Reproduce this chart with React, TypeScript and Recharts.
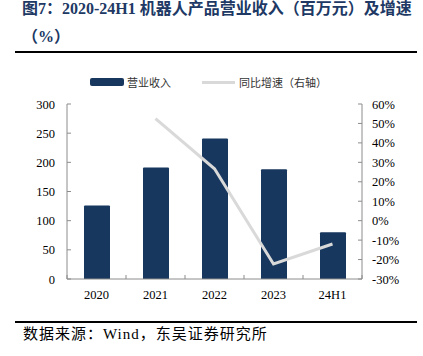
import React from "react";
import {
  ComposedChart,
  Bar,
  Line,
  XAxis,
  YAxis,
  Legend,
} from "recharts";

const categories = ["2020", "2021", "2022", "2023", "24H1"];
const revenue = [126, 191, 241, 188, 80];
const growth: (number | null)[] = [null, 52.5, 26.7, -22.3, -12];
const leftTicks = [0, 50, 100, 150, 200, 250, 300];
const rightTicks = [-30, -20, -10, 0, 10, 20, 30, 40, 50, 60];

const data = categories.map((name, i) => ({
  name,
  revenue: revenue[i],
  growth: growth[i],
}));

const BAR_COLOR = "#17375e";
const LINE_COLOR = "#d9d9d9";
const AXIS_COLOR = "#8c8c8c";
const LATIN = '"Liberation Serif", "Times New Roman", "Noto Sans CJK SC", serif';
const CJK = '"Liberation Serif", "Noto Sans CJK SC", serif';
const HALF_BAND = 29.5;

const LeftTick = (props: any) => {
  const { x, y, payload } = props;
  return (
    <g>
      <line x1={x} x2={x + 4} y1={y} y2={y} stroke={AXIS_COLOR} />
      <text x={x - 12} y={y + 4.5} textAnchor="end" fontSize={12.5} fill="#000" fontFamily={LATIN}>
        {payload.value}
      </text>
    </g>
  );
};

const RightTick = (props: any) => {
  const { x, y, payload } = props;
  return (
    <g>
      <line x1={x} x2={x - 4} y1={y} y2={y} stroke={AXIS_COLOR} />
      <text x={x + 10} y={y + 4.5} textAnchor="start" fontSize={12.5} fill="#000" fontFamily={LATIN}>
        {payload.value}%
      </text>
    </g>
  );
};

const BottomTick = (props: any) => {
  const { x, y, payload, index } = props;
  return (
    <g>
      <line x1={x - HALF_BAND} x2={x - HALF_BAND} y1={y} y2={y - 4} stroke={AXIS_COLOR} />
      {index === categories.length - 1 && (
        <line x1={x + HALF_BAND} x2={x + HALF_BAND} y1={y} y2={y - 4} stroke={AXIS_COLOR} />
      )}
      <text x={x} y={y + 20} textAnchor="middle" fontSize={12.5} fill="#000" fontFamily={LATIN}>
        {payload.value}
      </text>
    </g>
  );
};

const ChartLegend = () => (
  <div
    style={{
      display: "flex",
      alignItems: "center",
      fontFamily: CJK,
      fontSize: 11,
      color: "#333",
    }}
  >
    <span style={{ width: 34, height: 8, background: BAR_COLOR, borderRadius: 2, marginRight: 3 }} />
    <span>营业收入</span>
    <span style={{ width: 33, height: 3, background: LINE_COLOR, marginLeft: 31, marginRight: 4 }} />
    <span>同比增速（右轴）</span>
  </div>
);

export default function App() {
  return (
    <div style={{ position: "absolute", left: 0, top: 0, width: 423, height: 356, background: "#fff" }}>
      <div
        style={{
          position: "absolute",
          left: 22,
          top: 0,
          fontFamily: CJK,
          fontWeight: "bold",
          fontSize: 16,
          lineHeight: "28px",
          color: "#203864",
          whiteSpace: "nowrap",
        }}
      >
        <div style={{ marginTop: -5 }}>图7：2020-24H1 机器人产品营业收入（百万元）及增速</div>
        <div>（%）</div>
      </div>
      <div style={{ position: "absolute", left: 15, top: 51, width: 402, height: 2, background: "#000" }} />

      <div style={{ position: "absolute", left: 0, top: 0 }}>
        <ComposedChart
          width={423}
          height={356}
          data={data}
          margin={{ top: 104, right: 11, bottom: 57, left: 17 }}
        >
          <Legend
            verticalAlign="middle"
            align="center"
            content={() => <ChartLegend />}
            wrapperStyle={{ position: "absolute", top: 74, left: 90, width: 300 }}
          />
          <XAxis
            dataKey="name"
            height={20}
            stroke={AXIS_COLOR}
            tickLine={false}
            tickSize={0}
            tickMargin={0}
            tick={<BottomTick />}
            interval={0}
          />
          <YAxis
            yAxisId="left"
            orientation="left"
            width={50}
            domain={[0, 300]}
            ticks={leftTicks}
            stroke={AXIS_COLOR}
            tickLine={false}
            tickSize={0}
            tickMargin={0}
            tick={<LeftTick />}
            interval={0}
          />
          <YAxis
            yAxisId="right"
            orientation="right"
            width={50}
            domain={[-30, 60]}
            ticks={rightTicks}
            stroke={AXIS_COLOR}
            tickLine={false}
            tickSize={0}
            tickMargin={0}
            tick={<RightTick />}
            interval={0}
          />
          <Bar
            yAxisId="left"
            dataKey="revenue"
            fill={BAR_COLOR}
            barSize={26}
            radius={[1, 1, 0, 0]}
            isAnimationActive={false}
          />
          <Line
            yAxisId="right"
            dataKey="growth"
            stroke={LINE_COLOR}
            strokeWidth={3}
            dot={false}
            activeDot={false}
            isAnimationActive={false}
          />
        </ComposedChart>
      </div>

      <div style={{ position: "absolute", left: 15, top: 321, width: 402, height: 2, background: "#000" }} />
      <div
        style={{
          position: "absolute",
          left: 23,
          top: 324,
          fontFamily: CJK,
          fontSize: 15,
          letterSpacing: 1,
          lineHeight: "20px",
          color: "#000",
          whiteSpace: "nowrap",
        }}
      >
        数据来源：Wind，东吴证券研究所
      </div>
    </div>
  );
}
